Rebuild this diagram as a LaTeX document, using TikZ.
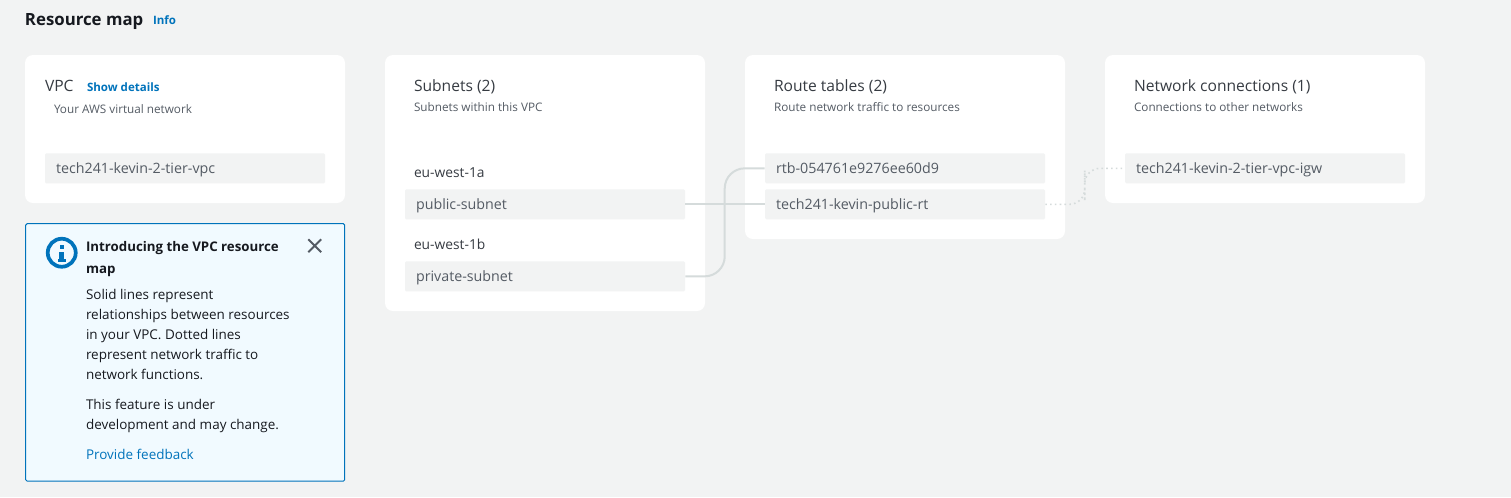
\documentclass[tikz,border=0pt]{standalone}
\usepackage{fontspec}
\setmainfont{Open Sans}
\usetikzlibrary{shapes.misc}
\definecolor{pagebg}{HTML}{F2F3F3}
\definecolor{inktext}{HTML}{16191F}
\definecolor{headtext}{HTML}{363B42}
\definecolor{greytext}{HTML}{545B64}
\definecolor{linkblue}{HTML}{0073BB}
\definecolor{alertbg}{HTML}{F1FAFF}
\definecolor{solidline}{HTML}{D5DBDB}
\tikzset{
    px/.style = {x = 0.75pt, y = -0.75pt},
    card/.style = {fill = white, rounded corners = 6pt, minimum width = 240pt, inner sep = 0pt, anchor = north west},
    rowbox/.style = {fill = pagebg, rounded corners = 1pt, minimum width = 210pt, minimum height = 22.5pt, inner sep = 0pt, anchor = west, text = greytext, font = \fontsize{10.7}{12}\selectfont, align = left, text width = 193.5pt, text height = 9.5pt, text depth = 2pt},
    heading/.style = {anchor = base west, inner sep = 0pt, text = headtext, font = \fontsize{11.7}{13}\selectfont},
    caption/.style = {anchor = base west, inner sep = 0pt, text = greytext, font = \fontsize{8.8}{11}\selectfont},
    link/.style = {anchor = base west, inner sep = 0pt, text = linkblue, font = \fontsize{8.65}{11}\selectfont\bfseries},
    alerttext/.style = {anchor = base west, inner sep = 0pt, text = inktext, font = \fontsize{10.1}{12}\selectfont},
    solidlink/.style = {draw = solidline, line width = 1.5pt, rounded corners = 15pt},
    dotlink/.style = {draw = solidline, line width = 1.2pt, dash pattern = on 1.2pt off 2.4pt, rounded corners = 11.5pt}
}
\begin{document}
\begin{tikzpicture}[px]
    \node (page) [fill = pagebg, minimum width = 1133.25pt, minimum height = 372.75pt, inner sep = 0pt, anchor = north west] at (0,0) {};
    \node (title) [heading, text = inktext, font = \fontsize{12.6}{15}\selectfont\bfseries] at (25,26) {Resource map};
    \node (info) [link] at (153,25) {Info};

    % cards
    \node (vpccard) [card, minimum height = 111pt] at (25,55) {};
    \node (subnetcard) [card, minimum height = 192pt] at (385,55) {};
    \node (routecard) [card, minimum height = 138pt] at (745,55) {};
    \node (netcard) [card, minimum height = 111pt] at (1105,55) {};

    % headings
    \node (vpchead) [heading] at (45,92) {VPC};
    \node (details) [link] at (87,92) {Show details};
    \node (vpcsub) [caption] at (54,114) {Your AWS virtual network};
    \node (subnethead) [heading] at (414,92) {Subnets (2)};
    \node (subnetsub) [caption] at (414,112) {Subnets within this VPC};
    \node (routehead) [heading] at (774,92) {Route tables (2)};
    \node (routesub) [caption] at (774,112) {Route network traffic to resources};
    \node (nethead) [heading] at (1134,92) {Network connections (1)};
    \node (netsub) [caption] at (1134,112) {Connections to other networks};
    \node (zonea) [heading, font = \fontsize{10.35}{12}\selectfont] at (414,178) {eu-west-1a};
    \node (zoneb) [heading, font = \fontsize{10.35}{12}\selectfont] at (414,250) {eu-west-1b};

    % rows
    \node (vpcrow) [rowbox] at (45,168.6) {tech241-kevin-2-tier-vpc};
    \node (publicrow) [rowbox] at (405,204.6) {public-subnet};
    \node (privaterow) [rowbox] at (405,276.6) {private-subnet};
    \node (rtbrow) [rowbox] at (765,168.6) {rtb-054761e9276ee60d9};
    \node (publicrt) [rowbox] at (765,204.6) {tech241-kevin-public-rt};
    \node (igwrow) [rowbox] at (1125,168.6) {tech241-kevin-2-tier-vpc-igw};

    % connectors
    \coordinate (solidmid) at (725,220);
    \coordinate (dotmid) at (1085,186);
    \draw [solidlink] (publicrow.east) -- (publicrt.west);
    \draw [solidlink] (privaterow.east) -| (solidmid) |- (rtbrow.west);
    \draw [dotlink] (publicrt.east) -| (dotmid) |- (igwrow.west);

    % alert box
    \node (alert) [fill = alertbg, draw = linkblue, line width = 0.75pt, rounded corners = 1pt, minimum width = 239.25pt, minimum height = 193pt, inner sep = 0pt, anchor = north west] at (25.5,223.5) {};
    \node (infoicon) [circle, draw = linkblue, line width = 2.8pt, fill = alertbg, minimum size = 21pt, inner sep = 0pt] at (62,253) {};
    \fill [linkblue] (60,245) rectangle (64,249);
    \fill [linkblue] (59,252) rectangle (64.5,259);
    \fill [linkblue] (58,259) rectangle (66,262.5);
    \node (close) [cross out, draw = greytext, line width = 1.5pt, minimum size = 8.2pt, inner sep = 0pt] at (315,246) {};
    \node (alerthead) [alerttext, font = \fontsize{9.96}{12}\selectfont\bfseries] at (86,252) {Introducing the VPC resource};
    \node (alerthead2) [alerttext, font = \fontsize{9.96}{12}\selectfont\bfseries] at (86,274) {map};
    \node (alert1) [alerttext] at (86,300) {Solid lines represent};
    \node (alert2) [alerttext] at (86,320) {relationships between resources};
    \node (alert3) [alerttext] at (86,340) {in your VPC. Dotted lines};
    \node (alert4) [alerttext] at (86,360) {represent network traffic to};
    \node (alert5) [alerttext] at (86,380) {network functions.};
    \node (alert6) [alerttext] at (86,410) {This feature is under};
    \node (alert7) [alerttext] at (86,430) {development and may change.};
    \node (feedback) [alerttext, text = linkblue] at (86,460) {Provide feedback};
\end{tikzpicture}
\end{document}
